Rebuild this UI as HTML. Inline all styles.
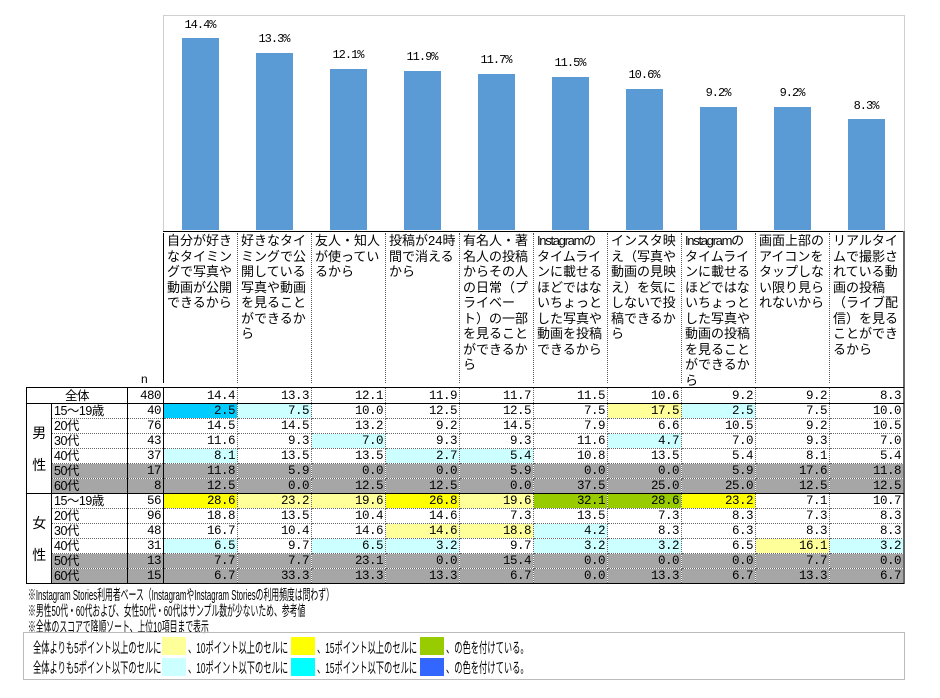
<!DOCTYPE html>
<html><head><meta charset="utf-8"><style>
body{margin:0;width:940px;height:698px;background:#fff;position:relative;overflow:hidden;font-family:"Liberation Sans","Noto Sans CJK JP",sans-serif;color:#000}
.a{position:absolute}
.bar{position:absolute;background:#5b9bd5;width:37px}
.bl{position:absolute;width:74px;text-align:center;font-size:12px;font-family:"Liberation Mono","Noto Sans CJK JP",monospace;letter-spacing:-1px}
.hd{position:absolute;top:233px;height:150px;width:70px;padding-left:3px;border-left:1px dotted #555;font-size:13px;line-height:15.5px;letter-spacing:0;word-break:break-all}
.hd .i{letter-spacing:-1.3px}
table{position:absolute;left:26px;top:387px;border-collapse:collapse;table-layout:fixed;font-size:12.5px}
td{border:1px dotted #666;padding:0 2px;height:14px;line-height:14px;text-align:right;font-family:"Liberation Mono","Noto Sans CJK JP",monospace;letter-spacing:-0.5px;white-space:nowrap;overflow:hidden}
td.l{text-align:left;font-family:"Liberation Sans","Noto Sans CJK JP",sans-serif;border-right:1px solid #000}
td.n{border-right:1px solid #000}
tr.t td{height:15px}
tr.g td{background:#a6a6a6}
tr.f td{border-top:1px solid #000}
td.grp{background:#fff!important;text-align:center;font-family:"Liberation Sans","Noto Sans CJK JP",sans-serif;border:1px solid #000;line-height:32px;font-size:14px}
.ly{background:#ffff99}.y{background:#ffff00}.g{background:#99cc00}.lc{background:#ccffff}.c{background:#00ccff}
.note{position:absolute;left:28px;font-size:14.5px;white-space:nowrap;transform:scaleX(0.54);transform-origin:left top}
.lg{position:absolute;font-size:14.5px;white-space:nowrap;transform:scaleX(0.57);transform-origin:left top}
.sw{position:absolute;width:24px;height:18px}
</style></head><body>
<div class="a" style="left:163px;top:15px;width:740px;height:215px;border:1px solid #d0d0d0;border-bottom:none"></div>
<div class="bar" style="left:182px;top:38px;height:192px"></div>
<div class="bar" style="left:256px;top:53px;height:177px"></div>
<div class="bar" style="left:330px;top:69px;height:161px"></div>
<div class="bar" style="left:404px;top:71px;height:159px"></div>
<div class="bar" style="left:478px;top:74px;height:156px"></div>
<div class="bar" style="left:552px;top:77px;height:153px"></div>
<div class="bar" style="left:626px;top:89px;height:141px"></div>
<div class="bar" style="left:700px;top:107px;height:123px"></div>
<div class="bar" style="left:774px;top:107px;height:123px"></div>
<div class="bar" style="left:848px;top:119px;height:111px"></div>
<div class="bl" style="left:163px;top:18px">14.4%</div>
<div class="bl" style="left:237px;top:32px">13.3%</div>
<div class="bl" style="left:311px;top:48px">12.1%</div>
<div class="bl" style="left:385px;top:50px">11.9%</div>
<div class="bl" style="left:459px;top:53px">11.7%</div>
<div class="bl" style="left:533px;top:56px">11.5%</div>
<div class="bl" style="left:607px;top:68px">10.6%</div>
<div class="bl" style="left:681px;top:86px">9.2%</div>
<div class="bl" style="left:755px;top:86px">9.2%</div>
<div class="bl" style="left:829px;top:99px">8.3%</div>
<div class="a" style="left:163px;top:231px;width:740px;border-top:1px solid #000"></div>
<div class="hd" style="left:163px;border-left:1px solid #000">自分が好きなタイミングで写真や動画が公開できるから</div>
<div class="hd" style="left:237px">好きなタイミングで公開している写真や動画を見ることができるから</div>
<div class="hd" style="left:311px">友人・知人が使っているから</div>
<div class="hd" style="left:385px">投稿が24時間で消えるから</div>
<div class="hd" style="left:459px">有名人・著名人の投稿からその人の日常（プライベート）の一部を見ることができるから</div>
<div class="hd" style="left:533px"><span class="i">Instagramの</span>タイムラインに載せるほどではないちょっとした写真や動画を投稿できるから</div>
<div class="hd" style="left:607px">インスタ映え（写真や動画の見映え）を気にしないで投稿できるから</div>
<div class="hd" style="left:681px"><span class="i">Instagramの</span>タイムラインに載せるほどではないちょっとした写真や動画の投稿を見ることができるから</div>
<div class="hd" style="left:755px">画面上部のアイコンをタップしない限り見られないから</div>
<div class="hd" style="left:829px">リアルタイムで撮影されている動画の投稿（ライブ配信）を見ることができるから</div>
<div class="a" style="left:903px;top:231px;height:353px;border-left:2px solid #666"></div>
<div class="a" style="left:141px;top:372px;font-size:12px">n</div>
<table>
<colgroup><col style="width:25px"><col style="width:76px"><col style="width:36px"><col span="10" style="width:74px"></colgroup>
<tr class="t" style="border-top:1px solid #000"><td class="l" colspan="2" style="text-align:center;border:1px solid #000">全体</td><td class="n">480</td><td>14.4</td><td>13.3</td><td>12.1</td><td>11.9</td><td>11.7</td><td>11.5</td><td>10.6</td><td>9.2</td><td>9.2</td><td>8.3</td></tr>
<tr style="border-top:1px solid #000"><td class="grp" rowspan="6">男<br>性</td><td class="l">15～19歳</td><td class="n">40</td><td class="c">2.5</td><td class="lc">7.5</td><td>10.0</td><td>12.5</td><td>12.5</td><td>7.5</td><td class="ly">17.5</td><td class="lc">2.5</td><td>7.5</td><td>10.0</td></tr>
<tr><td class="l">20代</td><td class="n">76</td><td>14.5</td><td>14.5</td><td>13.2</td><td>9.2</td><td>14.5</td><td>7.9</td><td>6.6</td><td>10.5</td><td>9.2</td><td>10.5</td></tr>
<tr><td class="l">30代</td><td class="n">43</td><td>11.6</td><td>9.3</td><td class="lc">7.0</td><td>9.3</td><td>9.3</td><td>11.6</td><td class="lc">4.7</td><td>7.0</td><td>9.3</td><td>7.0</td></tr>
<tr><td class="l">40代</td><td class="n">37</td><td class="lc">8.1</td><td>13.5</td><td>13.5</td><td class="lc">2.7</td><td class="lc">5.4</td><td>10.8</td><td>13.5</td><td>5.4</td><td>8.1</td><td>5.4</td></tr>
<tr class="g"><td class="l">50代</td><td class="n">17</td><td>11.8</td><td>5.9</td><td>0.0</td><td>0.0</td><td>5.9</td><td>0.0</td><td>0.0</td><td>5.9</td><td>17.6</td><td>11.8</td></tr>
<tr class="g"><td class="l">60代</td><td class="n">8</td><td>12.5</td><td>0.0</td><td>12.5</td><td>12.5</td><td>0.0</td><td>37.5</td><td>25.0</td><td>25.0</td><td>12.5</td><td>12.5</td></tr>
<tr class="f"><td class="grp" rowspan="6">女<br>性</td><td class="l">15～19歳</td><td class="n">56</td><td class="y">28.6</td><td class="ly">23.2</td><td class="ly">19.6</td><td class="y">26.8</td><td class="ly">19.6</td><td class="g">32.1</td><td class="g">28.6</td><td class="y">23.2</td><td>7.1</td><td>10.7</td></tr>
<tr><td class="l">20代</td><td class="n">96</td><td>18.8</td><td>13.5</td><td>10.4</td><td>14.6</td><td>7.3</td><td>13.5</td><td>7.3</td><td>8.3</td><td>7.3</td><td>8.3</td></tr>
<tr><td class="l">30代</td><td class="n">48</td><td>16.7</td><td>10.4</td><td>14.6</td><td class="ly">14.6</td><td class="ly">18.8</td><td class="lc">4.2</td><td>8.3</td><td>6.3</td><td>8.3</td><td>8.3</td></tr>
<tr><td class="l">40代</td><td class="n">31</td><td class="lc">6.5</td><td>9.7</td><td class="lc">6.5</td><td class="lc">3.2</td><td>9.7</td><td class="lc">3.2</td><td class="lc">3.2</td><td>6.5</td><td class="ly">16.1</td><td class="lc">3.2</td></tr>
<tr class="g"><td class="l">50代</td><td class="n">13</td><td>7.7</td><td>7.7</td><td>23.1</td><td>0.0</td><td>15.4</td><td>0.0</td><td>0.0</td><td>0.0</td><td>7.7</td><td>0.0</td></tr>
<tr class="g" style="border-bottom:1px solid #000"><td class="l">60代</td><td class="n">15</td><td>6.7</td><td>33.3</td><td>13.3</td><td>13.3</td><td>6.7</td><td>0.0</td><td>13.3</td><td>6.7</td><td>13.3</td><td>6.7</td></tr>
</table>
<div class="note" style="top:584px">※Instagram Stories利用者ベース（InstagramやInstagram Storiesの利用頻度は問わず）</div>
<div class="note" style="top:600px">※男性50代・60代および、女性50代・60代はサンプル数が少ないため、参考値</div>
<div class="note" style="top:616px">※全体のスコアで降順ソート、上位10項目まで表示</div>
<div class="a" style="left:23px;top:632px;width:880px;height:46px;border:1px solid #bbb"></div>
<div class="lg" style="left:33px;top:637px">全体よりも5ポイント以上のセルに</div>
<div class="sw" style="left:162px;top:637px;background:#ffff99"></div>
<div class="lg" style="left:188px;top:637px">、10ポイント以上のセルに</div>
<div class="sw" style="left:291px;top:637px;background:#ffff00"></div>
<div class="lg" style="left:317px;top:637px">、15ポイント以上のセルに</div>
<div class="sw" style="left:420px;top:637px;background:#99cc00"></div>
<div class="lg" style="left:446px;top:637px">、の色を付けている。</div>
<div class="lg" style="left:33px;top:657px">全体よりも5ポイント以下のセルに</div>
<div class="sw" style="left:162px;top:658px;background:#ccffff"></div>
<div class="lg" style="left:188px;top:657px">、10ポイント以下のセルに</div>
<div class="sw" style="left:291px;top:658px;background:#00ffff"></div>
<div class="lg" style="left:317px;top:657px">、15ポイント以下のセルに</div>
<div class="sw" style="left:420px;top:658px;background:#3366ff"></div>
<div class="lg" style="left:446px;top:657px">、の色を付けている。</div>
</body></html>
